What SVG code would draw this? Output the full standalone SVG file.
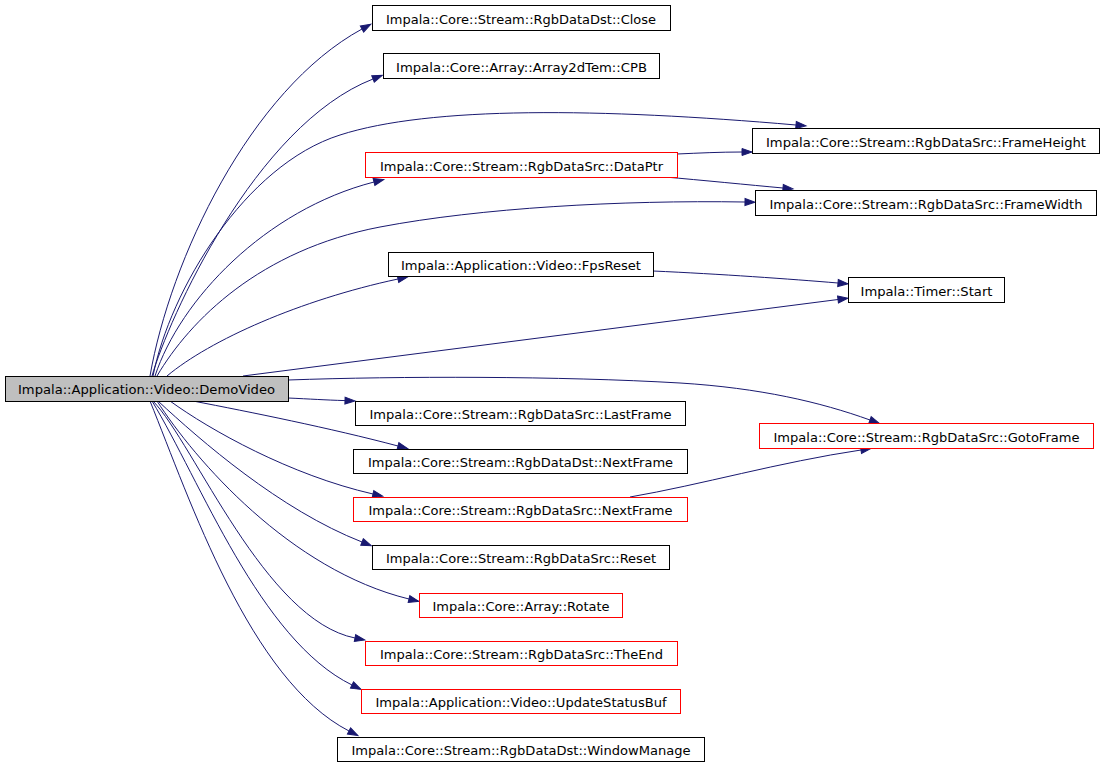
<svg xmlns="http://www.w3.org/2000/svg" width="1103" height="765" viewBox="0 0 1103 765">
<style>
.n rect{fill:#ffffff;stroke:#000000;stroke-width:1}
.n.red rect{stroke:#ff0000}
.n.root rect{fill:#bfbfbf}
.n text{font-family:"DejaVu Sans","Liberation Sans",sans-serif;font-size:13px;fill:#000000;text-anchor:middle}
#edges path{fill:none;stroke:#191970;stroke-width:1;marker-end:url(#arrow)}
</style>
<defs>
<marker id="arrow" markerUnits="userSpaceOnUse" markerWidth="12" markerHeight="9" refX="0" refY="3.5" orient="auto" overflow="visible">
<path d="M0,0 L10,3.5 L0,7 z" fill="#191970" stroke="#191970" stroke-width="1"/>
</marker>
</defs>
<rect width="1103" height="765" fill="#ffffff"/>
<g id="edges">
<path d="M150,376 C170,260 250,90 362,29"/>
<path d="M152,376 C168,320 255,125 373,79"/>
<path d="M153,376 C170,290 245,165 340,135 C430,106 600,108 796,125"/>
<path d="M155,376 C180,300 265,210 374,182"/>
<path d="M157,376 C190,320 260,250 380,227 C480,208 620,200 745,202"/>
<path d="M167,376 C210,340 300,300 398,279"/>
<path d="M243,376 L838,299.5"/>
<path d="M677,154 C700,153 720,152 742,152"/>
<path d="M665,177 C700,180 750,185 783,188"/>
<path d="M653,271 C720,274 790,279 838,283"/>
<path d="M288,380 C400,376 560,376 680,383 C760,388 820,402 870,420"/>
<path d="M288,398 C310,399 325,400 345,400.6"/>
<path d="M193,401 C250,412 330,428 398,446"/>
<path d="M170,401 C210,430 290,475 373,494"/>
<path d="M630,497 C700,485 780,462 861,450"/>
<path d="M158,401 C200,440 280,510 362,542"/>
<path d="M157,401 C195,460 290,570 409,599"/>
<path d="M153,401 C195,445 265,620 355,638"/>
<path d="M152,401 C200,480 260,640 352,685"/>
<path d="M150,401 C190,500 250,680 349,731"/>
</g>
<g id="DemoVideo" class="n root"><rect x="5.5" y="376.5" width="283" height="25"/><text x="146.5" y="394" textLength="257" lengthAdjust="spacingAndGlyphs">Impala::Application::Video::DemoVideo</text></g>
<g id="Close" class="n"><rect x="372.5" y="5.5" width="298" height="25"/><text x="521" y="23.5" textLength="270" lengthAdjust="spacingAndGlyphs">Impala::Core::Stream::RgbDataDst::Close</text></g>
<g id="CPB" class="n"><rect x="383.5" y="53.5" width="276" height="25"/><text x="521.5" y="71.5" textLength="251" lengthAdjust="spacingAndGlyphs">Impala::Core::Array::Array2dTem::CPB</text></g>
<g id="DataPtr" class="n red"><rect x="365.5" y="152.5" width="312" height="25"/><text x="521.5" y="170.5" textLength="283" lengthAdjust="spacingAndGlyphs">Impala::Core::Stream::RgbDataSrc::DataPtr</text></g>
<g id="FrameHeight" class="n"><rect x="752.5" y="128.5" width="347" height="25"/><text x="926" y="146.5" textLength="320" lengthAdjust="spacingAndGlyphs">Impala::Core::Stream::RgbDataSrc::FrameHeight</text></g>
<g id="FrameWidth" class="n"><rect x="755.5" y="190.5" width="341" height="25"/><text x="926" y="208.5" textLength="313" lengthAdjust="spacingAndGlyphs">Impala::Core::Stream::RgbDataSrc::FrameWidth</text></g>
<g id="FpsReset" class="n"><rect x="388.5" y="252.5" width="265" height="24"/><text x="521" y="270" textLength="240" lengthAdjust="spacingAndGlyphs">Impala::Application::Video::FpsReset</text></g>
<g id="TimerStart" class="n"><rect x="848.5" y="277.5" width="156" height="25"/><text x="926.5" y="295.5" textLength="132" lengthAdjust="spacingAndGlyphs">Impala::Timer::Start</text></g>
<g id="GotoFrame" class="n red"><rect x="759.5" y="423.5" width="334" height="25"/><text x="926.5" y="441.5" textLength="306" lengthAdjust="spacingAndGlyphs">Impala::Core::Stream::RgbDataSrc::GotoFrame</text></g>
<g id="LastFrame" class="n"><rect x="355.5" y="401.5" width="330" height="24"/><text x="520.5" y="419" textLength="302" lengthAdjust="spacingAndGlyphs">Impala::Core::Stream::RgbDataSrc::LastFrame</text></g>
<g id="DstNextFrame" class="n"><rect x="353.5" y="449.5" width="334" height="24"/><text x="520.5" y="467" textLength="305" lengthAdjust="spacingAndGlyphs">Impala::Core::Stream::RgbDataDst::NextFrame</text></g>
<g id="SrcNextFrame" class="n red"><rect x="353.5" y="497.5" width="334" height="24"/><text x="520.5" y="515" textLength="304" lengthAdjust="spacingAndGlyphs">Impala::Core::Stream::RgbDataSrc::NextFrame</text></g>
<g id="Reset" class="n"><rect x="372.5" y="545.5" width="297" height="24"/><text x="521" y="563" textLength="270" lengthAdjust="spacingAndGlyphs">Impala::Core::Stream::RgbDataSrc::Reset</text></g>
<g id="Rotate" class="n red"><rect x="419.5" y="593.5" width="203" height="24"/><text x="521" y="611" textLength="177" lengthAdjust="spacingAndGlyphs">Impala::Core::Array::Rotate</text></g>
<g id="TheEnd" class="n red"><rect x="365.5" y="641.5" width="312" height="24"/><text x="521.5" y="659" textLength="283" lengthAdjust="spacingAndGlyphs">Impala::Core::Stream::RgbDataSrc::TheEnd</text></g>
<g id="UpdateStatusBuf" class="n red"><rect x="361.5" y="689.5" width="319" height="24"/><text x="521" y="707" textLength="291" lengthAdjust="spacingAndGlyphs">Impala::Application::Video::UpdateStatusBuf</text></g>
<g id="WindowManage" class="n"><rect x="337.5" y="737.5" width="367" height="24"/><text x="521" y="755" textLength="339" lengthAdjust="spacingAndGlyphs">Impala::Core::Stream::RgbDataDst::WindowManage</text></g>
</svg>
